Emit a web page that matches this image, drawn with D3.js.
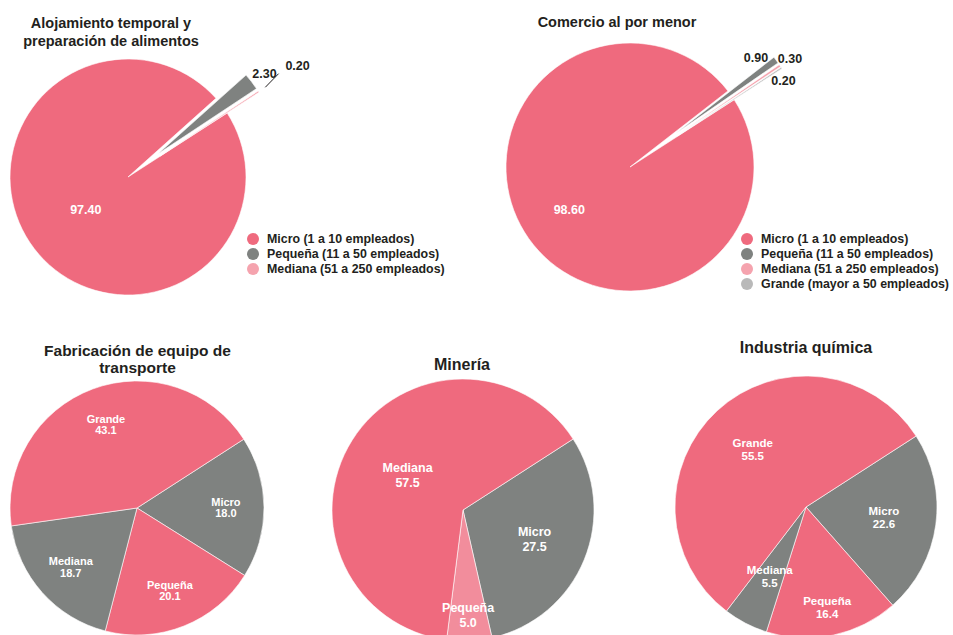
<!DOCTYPE html>
<html>
<head>
  <meta charset="utf-8">
  <title>Tamaño de empresa por sector</title>
  <script src="https://cdn.jsdelivr.net/npm/d3@7"></script>
  <style type="text/css">
  body { margin: 0; background: #fff; }
  text { font-family: "Liberation Sans", Arial, Helvetica, sans-serif; font-weight: bold; }
  </style>
</head>
<body>
<div id="chart"></div>
<script>

// data
var alojLabels = ["Micro", "Pequeña", "Mediana"];
var alojValues = [97.4, 2.3, 0.2];

var comercioLabels = ["Micro", "Pequeña", "Mediana", "Grande"];
var comercioValues = [98.6, 0.9, 0.3, 0.2];

var transporteLabels = ["Micro", "Pequeña", "Mediana", "Grande"];
var transporteValues = [18.0, 20.1, 18.7, 43.1];

var mineriaLabels = ["Micro", "Pequeña", "Mediana"];
var mineriaValues = [27.5, 5.0, 57.5];

var quimicaLabels = ["Micro", "Pequeña", "Mediana", "Grande"];
var quimicaValues = [22.6, 16.4, 5.5, 55.5];

var legendLabels = ["Micro (1 a 10 empleados)", "Pequeña (11 a 50 empleados)",
                    "Mediana (51 a 250 empleados)", "Grande (mayor a 50 empleados)"];

// colours
var pink = "#ef6a7e", grey = "#7f8280", lightPink = "#f5a3ae", lightGrey = "#b9b9b9", midPink = "#f28d9c";
var legendColors = [pink, grey, lightPink, lightGrey];

var width = 953, height = 635;
var startDeg = 57.2;

var svg = d3.select("#chart")
  .append("svg")
    .attr("width", width)
    .attr("height", height);

var charts = [
  { labels: alojLabels, values: alojValues, colors: [pink, grey, lightPink],
    cx: 128, cy: 177, r: 118, pull: 38, fmt: ".2f",
    title: ["Alojamiento temporal y", "preparación de alimentos"], tx: 111, ty: 28, tsize: 14.5, tgap: 18,
    inside: [0.45, null, null], insideSize: 12.5,
    outside: [null, [13, -8], [39, -26]], leader: [false, false, true],
    legend: { x: 253, y: 239, n: 3 } },
  { labels: comercioLabels, values: comercioValues, colors: [pink, grey, lightPink, lightGrey],
    cx: 630, cy: 167, r: 124, pull: 57, fmt: ".2f",
    title: ["Comercio al por menor"], tx: 617, ty: 27, tsize: 14.5, tgap: 18,
    inside: [0.6, null, null, null], insideSize: 12.5,
    outside: [null, [-20, -2], [10, -7], [2, 13]], leader: [false, false, false, false],
    legend: { x: 747, y: 239, n: 4 } },
  { labels: transporteLabels, values: transporteValues, colors: [grey, pink, grey, pink],
    cx: 137, cy: 508, r: 127, fmt: ".1f",
    title: ["Fabricación de equipo de", "transporte"], tx: 137.5, ty: 356, tsize: 15.5, tgap: 17,
    inside: [0.7, 0.7, 0.7, 0.7], insideSize: 11, lineGap: 11.5, named: true },
  { labels: mineriaLabels, values: mineriaValues, colors: [grey, midPink, pink],
    cx: 463, cy: 510, r: 131, fmt: ".1f",
    title: ["Minería"], tx: 462, ty: 370, tsize: 16, tgap: 17,
    inside: [0.59, 0.8, 0.5], insideSize: 12.5, lineGap: 15, named: true },
  { labels: quimicaLabels, values: quimicaValues, colors: [grey, pink, grey, pink],
    cx: 806, cy: 507, r: 131, fmt: ".1f",
    title: ["Industria química"], tx: 806, ty: 353, tsize: 16, tgap: 17,
    inside: [0.6, 0.78, 0.6, 0.6], insideSize: 11.5, lineGap: 13, named: true }
];

var pie = d3.pie()
  .sort(null)
  .value(function(d) { return d.value; })
  .startAngle(startDeg * Math.PI / 180)
  .endAngle(startDeg * Math.PI / 180 + 2 * Math.PI);

charts.forEach(function(c) {
  var rows = c.labels.map(function(l, i) { return { label: l, value: c.values[i], i: i }; });
  var arcs = pie(rows);
  var arc = d3.arc().innerRadius(0).outerRadius(c.r);
  var g = svg.append("g").attr("transform", "translate(" + c.cx + "," + c.cy + ")");

  // small slices are pulled out of the pie
  function offset(d) {
    if (!c.pull || d.index === 0) return [0, 0];
    var a = (d.startAngle + d.endAngle) / 2;
    return [Math.sin(a) * c.pull, -Math.cos(a) * c.pull];
  }

  g.selectAll("path")
    .data(arcs)
    .enter()
    .append("path")
      .attr("d", arc)
      .attr("transform", function(d) { var o = offset(d); return "translate(" + o[0] + "," + o[1] + ")"; })
      .attr("fill", function(d) { return c.colors[d.index]; })
      .attr("stroke", "#fff")
      .attr("stroke-width", 0.6);

  var fmt = d3.format(c.fmt);

  // labels inside the slices
  arcs.forEach(function(d) {
    var k = c.inside[d.index];
    if (k == null) return;
    var a = (d.startAngle + d.endAngle) / 2;
    var x = Math.sin(a) * c.r * k, y = -Math.cos(a) * c.r * k;
    var t = g.append("text")
      .attr("text-anchor", "middle")
      .attr("fill", "#fff")
      .style("font-size", c.insideSize + "px");
    if (c.named) {
      t.append("tspan").attr("x", x).attr("y", y - c.lineGap / 2).attr("dy", "0.35em").text(d.data.label);
      t.append("tspan").attr("x", x).attr("y", y + c.lineGap / 2).attr("dy", "0.35em").text(fmt(d.data.value));
    } else {
      t.attr("x", x).attr("y", y).attr("dy", "0.35em").text(fmt(d.data.value));
    }
  });

  // labels outside for pulled slices
  if (c.outside) {
    arcs.forEach(function(d) {
      var n = c.outside[d.index];
      if (!n) return;
      var a = (d.startAngle + d.endAngle) / 2;
      var R = c.r + c.pull;
      var x = Math.sin(a) * R + n[0], y = -Math.cos(a) * R + n[1];
      if (c.leader[d.index]) {
        g.append("line")
          .attr("x1", Math.sin(a) * (R + 8)).attr("y1", -Math.cos(a) * (R + 8))
          .attr("x2", x - 19).attr("y2", y + 8)
          .attr("stroke", "#231f20")
          .attr("stroke-width", 1);
      }
      g.append("text")
        .attr("x", x).attr("y", y).attr("dy", "0.35em")
        .attr("text-anchor", "middle")
        .attr("fill", "#231f20")
        .style("font-size", "12.5px")
        .text(fmt(d.data.value));
    });
  }

  // title
  var title = svg.append("text")
    .attr("text-anchor", "middle")
    .attr("fill", "#231f20")
    .style("font-size", c.tsize + "px");
  c.title.forEach(function(line, i) {
    title.append("tspan").attr("x", c.tx).attr("y", c.ty + i * c.tgap).text(line);
  });

  // legend
  if (c.legend) {
    var lg = svg.append("g").attr("transform", "translate(" + c.legend.x + "," + c.legend.y + ")");
    var item = lg.selectAll("g")
      .data(legendLabels.slice(0, c.legend.n))
      .enter()
      .append("g")
        .attr("transform", function(d, i) { return "translate(0," + i * 15 + ")"; });
    item.append("circle")
      .attr("r", 6)
      .attr("fill", function(d, i) { return legendColors[i]; });
    item.append("text")
      .attr("x", 14)
      .attr("dy", "0.35em")
      .attr("fill", "#231f20")
      .style("font-size", "12.4px")
      .text(function(d) { return d; });
  }
});

</script>
</body>
</html>
